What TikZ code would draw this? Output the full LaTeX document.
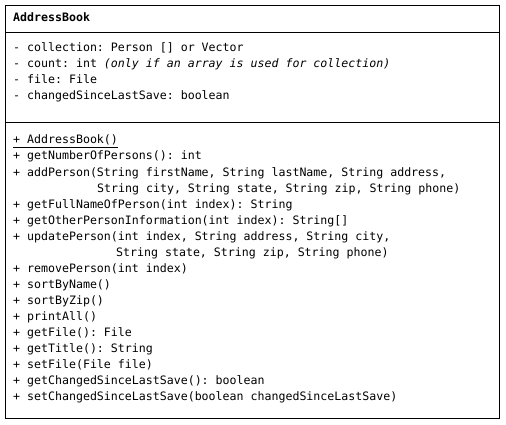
\documentclass[tikz,border=0pt]{standalone}
\usepackage{fontspec}
\setmonofont{DejaVu Sans Mono}[ItalicFont={DejaVu Sans Mono Oblique},BoldFont={DejaVu Sans Mono Bold}]
\usetikzlibrary{positioning}

\begin{document}
\begin{tikzpicture}[x=1pt,y=-1pt,
        every node/.style={font=\ttfamily\fontsize{11.6}{16}\selectfont,inner sep=0pt,anchor=base west},
        classname/.style={font=\ttfamily\bfseries\fontsize{11.6}{16}\selectfont},
        frame/.style={draw=black,line width=0.8pt}]
        \useasboundingbox (0,0) rectangle (506,425);

        % class box and compartments
        \draw[frame] (5,5) rectangle (499,418);
        \draw[frame] (5,32) -- (500,32);
        \draw[frame] (5,122) -- (500,122);

        \node[classname] (cls) at (13,22) {AddressBook};

        % attributes
        \node (collection) at (13,52) {- collection: Person [] or Vector};
        \node (count) at (13,68) {- count: int {\itshape(only if an array is used for collection)}};
        \node (file) at (13,84) {- file: File};
        \node (changed) at (13,100) {- changedSinceLastSave: boolean};

        % operations
        \node (ctor) at (13,144) {\underline{+ AddressBook()}};
        \node (getNumber) at (13,160) {+ getNumberOfPersons(): int};
        \node (addPerson) at (13,176) {+ addPerson(String firstName, String lastName, String address,};
        \node (addPersonRest) at (97,192) {String city, String state, String zip, String phone)};
        \node (getFullName) at (13,208) {+ getFullNameOfPerson(int index): String};
        \node (getOther) at (13,224) {+ getOtherPersonInformation(int index): String[]};
        \node (updatePerson) at (13,240) {+ updatePerson(int index, String address, String city,};
        \node (updatePersonRest) at (116,256) {String state, String zip, String phone)};
        \node (removePerson) at (13,272) {+ removePerson(int index)};
        \node (sortName) at (13,288) {+ sortByName()};
        \node (sortZip) at (13,304) {+ sortByZip()};
        \node (printAll) at (13,320) {+ printAll()};
        \node (getFile) at (13,336) {+ getFile(): File};
        \node (getTitle) at (13,352) {+ getTitle(): String};
        \node (setFile) at (13,368) {+ setFile(File file)};
        \node (getChanged) at (13,384) {+ getChangedSinceLastSave(): boolean};
        \node (setChanged) at (13,400) {+ setChangedSinceLastSave(boolean changedSinceLastSave)};
    \end{tikzpicture}
\end{document}
